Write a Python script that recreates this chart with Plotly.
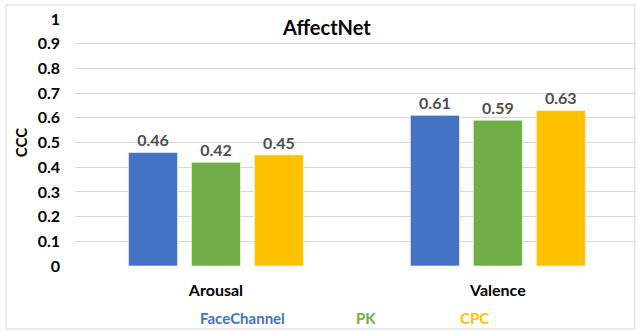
import plotly.graph_objects as go

categories = ["Arousal", "Valence"]
series_names = ["FaceChannel", "PK", "CPC"]
facechannel = [0.46, 0.61]
pk = [0.42, 0.59]
cpc = [0.45, 0.63]
y_ticks = [0, 0.1, 0.2, 0.3, 0.4, 0.5, 0.6, 0.7, 0.8, 0.9, 1]
y_tick_labels = ["0", "0.1", "0.2", "0.3", "0.4", "0.5", "0.6", "0.7", "0.8", "0.9", "1"]

colors = ["#4472C4", "#70AD47", "#FFC000"]
FONT = "Lato, 'Open Sans', sans-serif"

fig = go.Figure()
for name, vals, col in zip(series_names, [facechannel, pk, cpc], colors):
    fig.add_trace(go.Bar(
        x=categories, y=vals, name=name,
        marker=dict(color=col, line=dict(color="rgba(255,255,255,0.6)", width=1)),
        text=[f"<b>{v:.2f}</b>" for v in vals], textposition="outside",
        textfont=dict(family=FONT, size=16, color="#4d4d4d"),
        cliponaxis=False, showlegend=False,
    ))

# Coloured-text legend along the bottom
legend_x = [0.298, 0.518, 0.713]
for name, col, lx in zip(series_names, colors, legend_x):
    fig.add_annotation(
        text=f"<b>{name}</b>", x=lx, y=-0.21, xref="paper", yref="paper",
        showarrow=False, font=dict(family=FONT, size=15, color=col),
        xanchor="center", yanchor="middle",
    )

# Light frame around the chart area
fig.add_shape(type="rect", xref="paper", yref="paper",
              x0=-0.123, x1=0.998, y0=-0.255, y1=1.057,
              line=dict(color="#d9d9d9", width=1), layer="below")

fig.update_layout(
    width=636, height=331,
    margin=dict(l=75, r=0, t=19, b=65),
    paper_bgcolor="white", plot_bgcolor="white",
    barmode="group", bargap=0.33, bargroupgap=0.22,
    title=dict(text="<b>AffectNet</b>", x=0.514, xanchor="center",
               y=0.915, yanchor="middle",
               font=dict(family=FONT, size=20, color="black")),
    xaxis=dict(range=[-0.5, 1.49], showgrid=False, showline=False,
               ticks="", ticklabelstandoff=13,
               tickfont=dict(family=FONT, size=16, color="black"),
               tickprefix="<b>", ticksuffix="</b>"),
    yaxis=dict(range=[0, 1], tickvals=y_ticks, ticktext=[f"<b>{t}</b>" for t in y_tick_labels],
               showgrid=True, gridcolor="#d9d9d9", gridwidth=1,
               zeroline=False, showline=False, ticks="",
               ticklabelstandoff=14,
               tickfont=dict(family=FONT, size=16, color="black"),
               title=dict(text="<b>CCC</b>", standoff=6,
                          font=dict(family=FONT, size=15, color="black"))),
    font=dict(family=FONT),
)

fig.write_html("out.html")
